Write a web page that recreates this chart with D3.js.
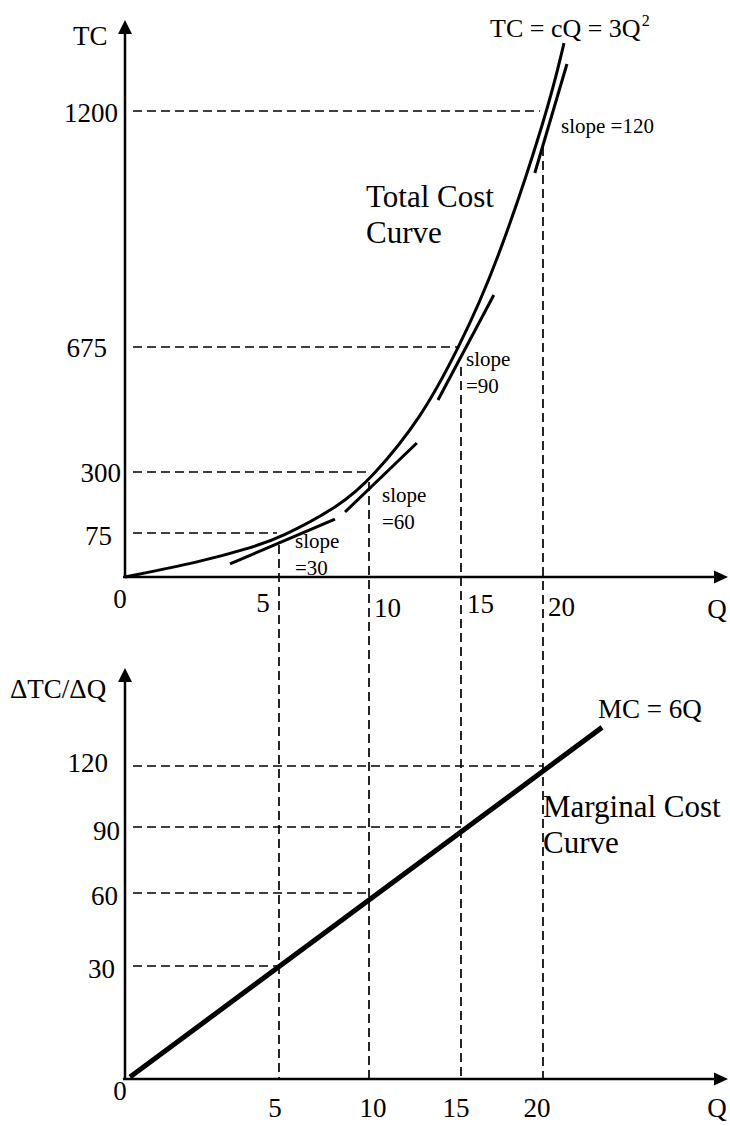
<!DOCTYPE html>
<html><head><meta charset="utf-8">
<script src="https://cdn.jsdelivr.net/npm/d3@7"></script>
<style>
body{margin:0;background:#fff}
text{font-family:"Liberation Serif","Times New Roman",serif;fill:#000}
</style>
</head><body>
<svg id="c" width="730" height="1126"></svg>
<script>
// ---- data ----
const qTicks = [0, 5, 10, 15, 20];
const tcTicks = [0, 75, 300, 675, 1200];
const mcTicks = [0, 30, 60, 90, 120];
// points of the drawn TC curve
const tcCurveQ = [0, 2.44, 4.06, 5.06, 8.39, 10.16, 12.88, 14.84, 17.07, 20.3, 21.28];
const tcCurveV = [0, 25.6, 49.4, 66.5, 174.6, 277.9, 465, 669, 846, 1200, 1351];
const tangentSlopes = [30, 60, 90, 120];
const tangentQ = [[3.41, 8.11], [8.67, 12.6], [13.75, 17.0], [19.5, 21.46]];
const tangentTC = [[22.2, 126.6], [152.5, 387], [516, 790.7], [1062, 1304.6]];
const mcQ = [0, 23.6];
const mcV = [0, 139];

// ---- layout / style ----
const svg = d3.select("#c");
const x = d3.scaleLinear().domain(qTicks).range([125, 279, 369, 461, 543]);
const yT = d3.scaleLinear().domain(tcTicks).range([577, 533, 472, 347, 111]);
const yB = d3.scaleLinear().domain(mcTicks).range([1079, 966, 893, 827, 766]);
const axX0 = x(0), axisEndX = 728;
const topAxisY = yT(0), topTipY = 20;
const botAxisY = yB(0), botTipY = 668;
const F = 27;

function arrowUp(xx, yy){
  svg.append("path").attr("d", `M${xx},${yy} L${xx-7},${yy+14} L${xx+7},${yy+14} Z`).attr("fill","#000");
}
function arrowRight(xx, yy){
  svg.append("path").attr("d", `M${xx},${yy} L${xx-14},${yy-6.5} L${xx-14},${yy+6.5} Z`).attr("fill","#000");
}
function txt(s, xx, yy, size, anchor){
  return svg.append("text").attr("x", xx).attr("y", yy).attr("font-size", size)
    .attr("text-anchor", anchor || "start").text(s);
}
const dash = {stroke:"#000","stroke-width":1.7,"stroke-dasharray":"9,5",fill:"none"};
function dline(x1,y1,x2,y2){
  const l = svg.append("line").attr("x1",x1).attr("y1",y1).attr("x2",x2).attr("y2",y2);
  Object.entries(dash).forEach(([k,v])=>l.attr(k,v));
}

// ---- dashed guides ----
const hEndDx = [0, -2, 1, -3, -3];
tcTicks.forEach((v,i)=>{ if(i===0) return;
  dline(axX0+8, yT(v), x(qTicks[i]) + hEndDx[i], yT(v));
});
const vStart = [0, 12, 10, 20, 36];
qTicks.forEach((q,i)=>{ if(i===0) return;
  dline(x(q), yT(tcTicks[i]) + vStart[i], x(q), botAxisY);
});
mcTicks.forEach((v,i)=>{ if(i===0) return;
  dline(axX0+8, yB(v), x(qTicks[i]), yB(v));
});

// ---- axes ----
const axStyle = s => s.attr("stroke","#000").attr("stroke-width",2.5);
axStyle(svg.append("line").attr("x1",axX0).attr("y1",topAxisY).attr("x2",axX0).attr("y2",topTipY+10));
axStyle(svg.append("line").attr("x1",axX0-2).attr("y1",topAxisY).attr("x2",axisEndX-10).attr("y2",topAxisY));
arrowUp(axX0, topTipY); arrowRight(axisEndX, topAxisY);
axStyle(svg.append("line").attr("x1",axX0).attr("y1",botAxisY).attr("x2",axX0).attr("y2",botTipY+10));
axStyle(svg.append("line").attr("x1",axX0-2).attr("y1",botAxisY).attr("x2",axisEndX-10).attr("y2",botAxisY));
arrowUp(axX0, botTipY); arrowRight(axisEndX, botAxisY);

// ---- TC curve ----
const curvePts = tcCurveQ.map((q,i)=>[x(q), yT(tcCurveV[i])]);
svg.append("path").attr("d", d3.line().curve(d3.curveBasis)(curvePts))
  .attr("fill","none").attr("stroke","#000").attr("stroke-width",3);

// ---- tangent segments ----
tangentQ.forEach((qq,i)=>{
  svg.append("line")
    .attr("x1", x(qq[0])).attr("y1", yT(tangentTC[i][0]))
    .attr("x2", x(qq[1])).attr("y2", yT(tangentTC[i][1]))
    .attr("stroke","#000").attr("stroke-width",3);
});

// ---- MC line ----
svg.append("line").attr("x1", x(mcQ[0])+5).attr("y1", yB(mcV[0])-2)
  .attr("x2", x(mcQ[1])).attr("y2", yB(mcV[1]))
  .attr("stroke","#000").attr("stroke-width",5);

// ---- tick labels ----
const tcLabDx = [0, -13, -4, -18, -7];
const tcLabDy = [0, 12, 10, 10, 11];
tcTicks.forEach((v,i)=>{ if(i===0) return;
  txt(String(v), axX0 + tcLabDx[i], yT(v) + tcLabDy[i], F, "end");
});
txt("0", axX0-5, topAxisY+31, F, "middle");
const qTopDx = [0, -16, 5, 6, 5];
const qTopDy = [0, 35, 40, 36, 39];
qTicks.forEach((q,i)=>{ if(i===0) return;
  txt(String(q), x(q) + qTopDx[i], topAxisY + qTopDy[i], F, i===1 ? "middle" : "start");
});
txt("Q", 717, topAxisY+41, F, "middle");

const mcLabDx = [0, -10, -7, -5, -17];
const mcLabDy = [0, 12, 12, 13, 6];
mcTicks.forEach((v,i)=>{ if(i===0) return;
  txt(String(v), axX0 + mcLabDx[i], yB(v) + mcLabDy[i], F, "end");
});
txt("0", axX0-5, botAxisY+21, F, "middle");
const qBotDx = [0, -4, 4, -5, -6];
qTicks.forEach((q,i)=>{ if(i===0) return;
  txt(String(q), x(q) + qBotDx[i], botAxisY + 38, F, "middle");
});
txt("Q", 717, botAxisY+38, F, "middle");

// ---- axis titles & annotations ----
txt("TC", 73, 45, F);
const eq = svg.append("text").attr("x", 490).attr("y", 37).attr("font-size", 26);
eq.append("tspan").text("TC = cQ = 3Q");
eq.append("tspan").attr("font-size", 16).attr("dy", -11).attr("dx", 1).text("2");
txt("Total Cost", 366, 207, 31);
txt("Curve", 366, 243, 31);
txt("\u0394TC/\u0394Q", 10, 698, F);
txt("MC = 6Q", 598, 718, F);
txt("Marginal Cost", 543, 817, 31);
txt("Curve", 543, 853, 31);

// slope labels
const slopePos = [[295, 548], [382, 502], [466, 366], [561, 133]];
tangentSlopes.forEach((s,i)=>{
  const [lx, ly] = slopePos[i];
  if (i === 3) { txt("slope =" + s, lx, ly, 21); }
  else { txt("slope", lx, ly, 21); txt("=" + s, lx, ly + 27, 21); }
});
</script>
</body></html>
